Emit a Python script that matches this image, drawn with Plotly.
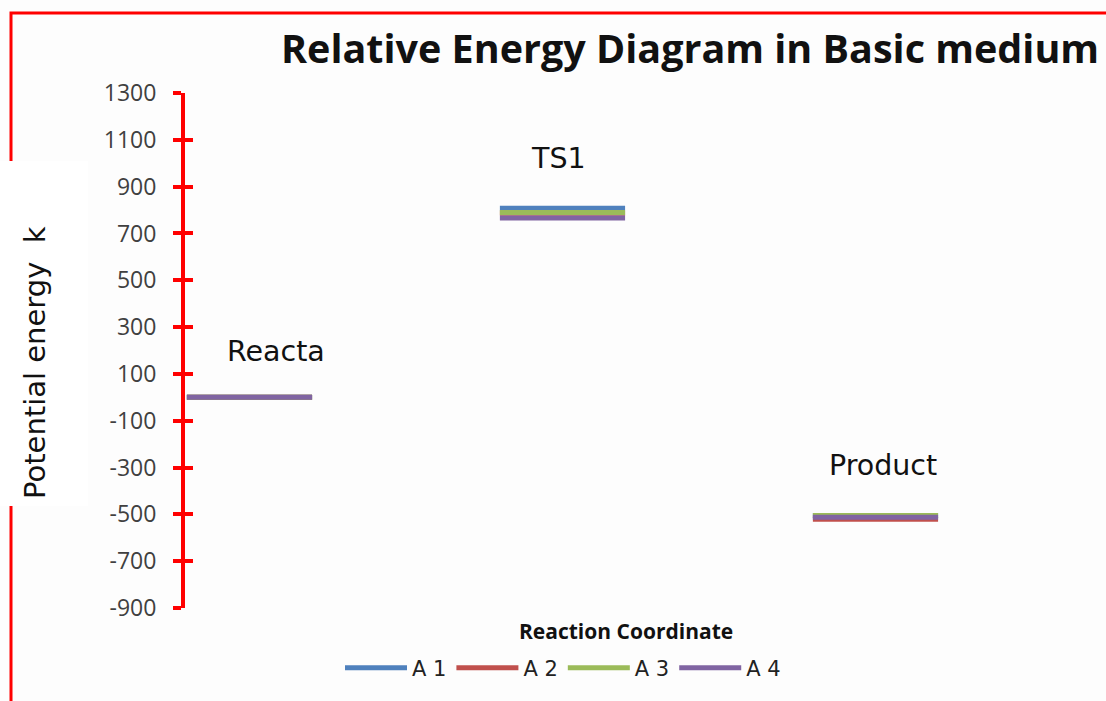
import plotly.graph_objects as go

# ---- data ----
stages = ["Reacta", "TS1", "Product"]
series_names = ["A 1", "A 2", "A 3", "A 4"]
a1 = [0, 808, -505]
a2 = [0, 786, -521]
a3 = [0, 789, -505]
a4 = [0, 766, -512]
y_ticks = [1300, 1100, 900, 700, 500, 300, 100, -100, -300, -500, -700, -900]

series_values = [a1, a2, a3, a4]
colors = ["#4F81BD", "#C0504D", "#9BBB59", "#8064A2"]

STEP = 5.0   # spacing between stage levels (x units)
WIDTH = 2.0  # width of each level

W, H = 1106, 701
ML, MR, MT, MB = 185, 11, 93, 93
PXU = 62.6
XR = [-0.03, (W - ML - MR) / PXU - 0.03]
YR = [-900, 1300]

fig = go.Figure()
for name, vals, col in zip(series_names, series_values, colors):
    xs, ys = [], []
    for i, v in enumerate(vals):
        xs += [i * STEP, i * STEP + WIDTH, None]
        ys += [v, v, None]
    fig.add_trace(go.Scatter(x=xs, y=ys, mode="lines", name=name,
                             line=dict(color=col, width=5),
                             connectgaps=False, hoverinfo="skip"))

# invisible trace on y2 to show inside ticks
fig.add_trace(go.Scatter(x=[None], y=[None], yaxis="y2", showlegend=False))

font_txt = "DejaVu Sans"
font_num = "Open Sans"

fig.update_layout(
    width=W, height=H,
    margin=dict(l=ML, r=MR, t=MT, b=MB),
    paper_bgcolor="#fdfdfd", plot_bgcolor="rgba(0,0,0,0)",
    showlegend=True,
    legend=dict(orientation="h", x=(563 - ML) / (W - ML - MR), xanchor="center",
                y=(H - MB - 668) / (H - MT - MB), yanchor="middle",
                font=dict(family=font_txt, size=21, color="#222"),
                itemwidth=62, tracegroupgap=0, bgcolor="rgba(0,0,0,0)"),
    xaxis=dict(range=XR, showgrid=False, zeroline=False, showline=False,
               showticklabels=False, ticks=""),
    yaxis=dict(range=YR, tickvals=y_ticks, ticktext=[str(t) for t in y_ticks],
               showgrid=False, zeroline=False, showline=True,
               linecolor="#ff0000", linewidth=4, ticks="outside", ticklen=8,
               tickwidth=4, tickcolor="#ff0000",
               tickfont=dict(family=font_num, size=23, color="#404040"),
               ticklabelstandoff=12),
    yaxis2=dict(range=YR, overlaying="y", side="left", tickvals=y_ticks,
                showticklabels=False, showgrid=False, zeroline=False,
                showline=False, ticks="inside", ticklen=8, tickwidth=4,
                tickcolor="#ff0000"),
)

def px_to_paper_x(px):
    return (px - ML) / (W - ML - MR)

def px_to_paper_y(py):
    return (H - MB - py) / (H - MT - MB)

# red border frame and white label box
fig.add_shape(type="rect", xref="paper", yref="paper",
              x0=px_to_paper_x(11), x1=px_to_paper_x(1125),
              y0=px_to_paper_y(725), y1=px_to_paper_y(13),
              line=dict(color="#ff0000", width=3), fillcolor="rgba(0,0,0,0)",
              layer="below")
fig.add_shape(type="rect", xref="paper", yref="paper",
              x0=px_to_paper_x(0), x1=px_to_paper_x(88),
              y0=px_to_paper_y(506), y1=px_to_paper_y(161),
              line=dict(width=0), fillcolor="#ffffff", layer="below")

annotations = [
    dict(text="<b>Relative Energy Diagram in Basic medium</b>", xref="paper", yref="paper",
         x=px_to_paper_x(690), y=px_to_paper_y(48), xanchor="center", yanchor="middle",
         showarrow=False, font=dict(family="Open Sans", size=39.5, color="#111")),
    dict(text="<b>Reaction Coordinate</b>", xref="paper", yref="paper",
         x=px_to_paper_x(626), y=px_to_paper_y(631), xanchor="center", yanchor="middle",
         showarrow=False, font=dict(family="Open Sans", size=21, color="#111")),
    dict(text="Potential energy  k", xref="paper", yref="paper",
         x=px_to_paper_x(35), y=px_to_paper_y(363), xanchor="center", yanchor="middle",
         textangle=-90, showarrow=False,
         font=dict(family=font_txt, size=29, color="#111")),
]
label_pos = [(1.42, 196), (5.94, 1021), (11.12, -290)]
for lab, (lx, ly) in zip(stages, label_pos):
    annotations.append(dict(text=lab, x=lx, y=ly, xref="x", yref="y",
                            showarrow=False, xanchor="center", yanchor="middle",
                            font=dict(family=font_txt, size=28.5, color="#111")))
fig.update_layout(annotations=annotations)

fig.write_html("out.html", config={"displayModeBar": False},
               post_script="document.body.style.margin='0';")
